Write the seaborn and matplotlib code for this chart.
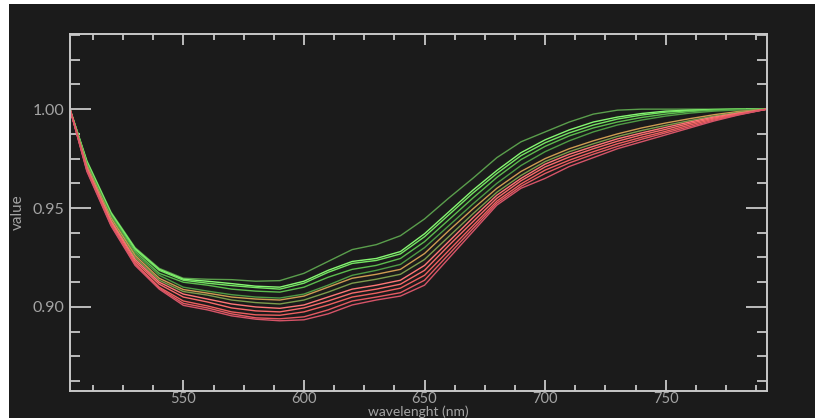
import numpy as np
import pandas as pd
import matplotlib
matplotlib.use("Agg")
import matplotlib.pyplot as plt
import seaborn as sns
from matplotlib.patches import Rectangle
from matplotlib.ticker import MultipleLocator

wavelength = [503, 510, 520, 530, 540, 550, 560, 570, 580, 590, 600, 610, 620, 630, 640,
              650, 660, 670, 680, 690, 700, 710, 720, 730, 740, 750, 760, 770, 780, 792]

c01 = [1.000, 0.9740, 0.9480, 0.9300, 0.9195, 0.9145, 0.9140, 0.9138, 0.9130, 0.9133, 0.9170, 0.9230, 0.9290, 0.9315, 0.9360,
       0.9445, 0.9550, 0.9650, 0.9755, 0.9835, 0.9885, 0.9935, 0.9975, 0.9995, 1.0000, 1.0000, 1.0000, 1.0000, 1.0000, 1.000]
c02 = [1.000, 0.9735, 0.9475, 0.9295, 0.9190, 0.9140, 0.9130, 0.9118, 0.9105, 0.9100, 0.9130, 0.9185, 0.9230, 0.9245, 0.9280,
       0.9370, 0.9480, 0.9590, 0.9690, 0.9780, 0.9845, 0.9895, 0.9935, 0.9960, 0.9978, 0.9990, 0.9995, 0.9998, 1.0000, 1.000]
c03 = [1.000, 0.9730, 0.9470, 0.9290, 0.9185, 0.9135, 0.9120, 0.9108, 0.9098, 0.9090, 0.9120, 0.9175, 0.9220, 0.9235, 0.9268,
       0.9355, 0.9465, 0.9575, 0.9675, 0.9765, 0.9830, 0.9880, 0.9920, 0.9950, 0.9970, 0.9985, 0.9992, 0.9997, 0.9999, 1.000]
c04 = [1.000, 0.9725, 0.9465, 0.9280, 0.9170, 0.9125, 0.9110, 0.9090, 0.9080, 0.9075, 0.9100, 0.9150, 0.9190, 0.9210, 0.9245,
       0.9330, 0.9440, 0.9550, 0.9655, 0.9745, 0.9812, 0.9865, 0.9905, 0.9935, 0.9958, 0.9975, 0.9988, 0.9995, 0.9998, 1.000]
c05 = [1.000, 0.9720, 0.9460, 0.9270, 0.9160, 0.9100, 0.9080, 0.9062, 0.9050, 0.9045, 0.9065, 0.9110, 0.9160, 0.9185, 0.9215,
       0.9300, 0.9410, 0.9520, 0.9625, 0.9715, 0.9785, 0.9840, 0.9885, 0.9920, 0.9945, 0.9965, 0.9980, 0.9990, 0.9996, 1.000]
c06 = [1.000, 0.9715, 0.9450, 0.9260, 0.9145, 0.9088, 0.9070, 0.9050, 0.9040, 0.9035, 0.9055, 0.9100, 0.9145, 0.9165, 0.9190,
       0.9270, 0.9385, 0.9495, 0.9600, 0.9685, 0.9750, 0.9800, 0.9840, 0.9875, 0.9905, 0.9930, 0.9952, 0.9972, 0.9988, 1.000]
c07 = [1.000, 0.9710, 0.9440, 0.9250, 0.9135, 0.9078, 0.9060, 0.9035, 0.9022, 0.9015, 0.9035, 0.9075, 0.9120, 0.9140, 0.9165,
       0.9240, 0.9355, 0.9470, 0.9580, 0.9665, 0.9735, 0.9785, 0.9825, 0.9862, 0.9892, 0.9918, 0.9942, 0.9965, 0.9984, 1.000]
c08 = [1.000, 0.9705, 0.9435, 0.9240, 0.9125, 0.9065, 0.9040, 0.9015, 0.9000, 0.8993, 0.9010, 0.9050, 0.9090, 0.9110, 0.9135,
       0.9210, 0.9330, 0.9450, 0.9565, 0.9650, 0.9722, 0.9772, 0.9812, 0.9850, 0.9880, 0.9908, 0.9935, 0.9960, 0.9980, 1.000]
c09 = [1.000, 0.9700, 0.9430, 0.9230, 0.9115, 0.9050, 0.9025, 0.8995, 0.8980, 0.8975, 0.8995, 0.9030, 0.9070, 0.9090, 0.9115,
       0.9185, 0.9310, 0.9430, 0.9550, 0.9638, 0.9708, 0.9758, 0.9800, 0.9838, 0.9870, 0.9898, 0.9928, 0.9955, 0.9977, 1.000]
c10 = [1.000, 0.9695, 0.9420, 0.9220, 0.9100, 0.9030, 0.9005, 0.8975, 0.8960, 0.8958, 0.8975, 0.9010, 0.9050, 0.9070, 0.9095,
       0.9160, 0.9285, 0.9410, 0.9535, 0.9622, 0.9692, 0.9742, 0.9785, 0.9825, 0.9858, 0.9888, 0.9920, 0.9950, 0.9974, 1.000]
c11 = [1.000, 0.9690, 0.9415, 0.9215, 0.9095, 0.9018, 0.8995, 0.8965, 0.8945, 0.8940, 0.8950, 0.8985, 0.9030, 0.9050, 0.9072,
       0.9135, 0.9265, 0.9395, 0.9525, 0.9610, 0.9675, 0.9728, 0.9772, 0.9812, 0.9848, 0.9880, 0.9912, 0.9945, 0.9972, 1.000]
c12 = [1.000, 0.9685, 0.9410, 0.9210, 0.9090, 0.9008, 0.8985, 0.8955, 0.8938, 0.8930, 0.8935, 0.8965, 0.9010, 0.9035, 0.9055,
       0.9110, 0.9245, 0.9380, 0.9515, 0.9600, 0.9650, 0.9710, 0.9755, 0.9800, 0.9835, 0.9870, 0.9905, 0.9940, 0.9970, 1.000]

series_names = ["s01", "s02", "s03", "s04", "s05", "s06", "s07", "s08", "s09", "s10", "s11", "s12"]
series_values = [c01, c02, c03, c04, c05, c06, c07, c08, c09, c10, c11, c12]
series_colors = ["#5a9e4c", "#86f872", "#74e462", "#5cbc4e", "#4f9c45", "#cf9c52",
                 "#7d9c4c", "#ff7676", "#f86a6a", "#ee6060", "#e45a62", "#d65468"]

x_ticks = [550, 600, 650, 700, 750]
x_tick_labels = ["550", "600", "650", "700", "750"]
y_ticks = [0.90, 0.95, 1.00]
y_tick_labels = ["0.90", "0.95", "1.00"]

rows = []
for name, vals in zip(series_names, series_values):
    for w, v in zip(wavelength, vals):
        rows.append({"wavelength": w, "value": v, "series": name})
df = pd.DataFrame(rows)

BG = "#1b1b1b"
FG = "#c8c8c8"
TXT = "#a4a4a4"

fig = plt.figure(figsize=(8.15, 4.18), dpi=100)
fig.patch.set_facecolor("white")
fig.patches.append(Rectangle((9 / 815, 0), 1.1, 1 - 4 / 418, transform=fig.transFigure,
                             facecolor=BG, edgecolor="none", zorder=-10))
ax = fig.add_axes([70 / 815, 1 - 391 / 418, (767 - 70) / 815, (391 - 34) / 418])
ax.set_facecolor(BG)

sns.lineplot(data=df, x="wavelength", y="value", hue="series", palette=series_colors,
             hue_order=series_names, legend=False, linewidth=1.0, ax=ax, estimator=None,
             sort=False)

ax.set_xlim(503, 792)
ax.set_ylim(0.8575, 1.038)

font = dict(family=["Lato", "DejaVu Sans"], weight="normal")
ax.set_xticks(x_ticks)
ax.set_xticklabels(x_tick_labels, color=TXT, fontsize=10.5, **font)
ax.set_yticks(y_ticks)
ax.set_yticklabels(y_tick_labels, color=TXT, fontsize=11.5, **font)
ax.xaxis.set_minor_locator(MultipleLocator(12.5))
ax.yaxis.set_minor_locator(MultipleLocator(0.0125))

ax.tick_params(axis="x", which="major", direction="in", length=8, width=1.3, color=FG,
               top=True, bottom=True, pad=0.5)
ax.tick_params(axis="x", which="minor", direction="in", length=4.5, width=1.3, color=FG,
               top=True, bottom=True)
ax.tick_params(axis="y", which="major", direction="in", length=15, width=1.3, color=FG,
               left=True, right=True, pad=4)
ax.tick_params(axis="y", which="minor", direction="in", length=7.5, width=1.3, color=FG,
               left=True, right=True)
for sp in ax.spines.values():
    sp.set_color(FG)
    sp.set_linewidth(1.4)

ax.set_xlabel("wavelenght (nm)", color=TXT, fontsize=10, **font)
ax.xaxis.set_label_coords(0.5, -(418 - 391) / 357)
ax.xaxis.label.set_verticalalignment("bottom")
ax.set_ylabel("value", color=TXT, fontsize=11, **font)
ax.yaxis.set_label_coords(-(70 - 18) / 697, 0.5)
ax.yaxis.label.set_verticalalignment("center")

fig.savefig("out.png", dpi=100, facecolor=fig.get_facecolor())
